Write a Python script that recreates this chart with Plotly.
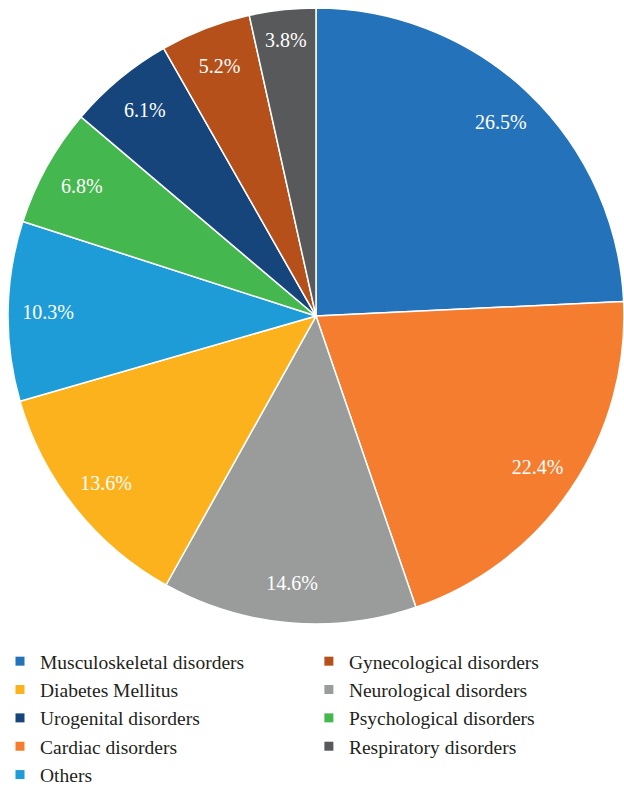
import plotly.graph_objects as go

# slice order (clockwise from 12 o'clock)
labels = ["Musculoskeletal disorders", "Cardiac disorders", "Neurological disorders",
          "Diabetes Mellitus", "Others", "Psychological disorders",
          "Urogenital disorders", "Gynecological disorders", "Respiratory disorders"]
values = [26.5, 22.4, 14.6, 13.6, 10.3, 6.8, 6.1, 5.2, 3.8]
colors = ["#2472BA", "#F47D30", "#999C9B", "#FBB21D", "#1E9CD7", "#45B74F",
          "#15457B", "#B5501A", "#58595B"]

# legend columns
legend_col1 = ["Musculoskeletal disorders", "Diabetes Mellitus",
               "Urogenital disorders", "Cardiac disorders", "Others"]
legend_col2 = ["Gynecological disorders", "Neurological disorders",
               "Psychological disorders", "Respiratory disorders"]

FONT = "Liberation Serif"
TEXT = "#231F20"
color_of = dict(zip(labels, colors))
dom = dict(x=[0.0128, 1.0], y=[0.2061, 0.9898])

fig = go.Figure()
# filled pie with white separators
fig.add_trace(go.Pie(
    labels=labels, values=values, sort=False, direction="clockwise", rotation=0,
    marker=dict(colors=colors, line=dict(color="white", width=1.5)),
    textinfo="none", showlegend=False, hoverinfo="label+value", domain=dom,
))
# transparent outer ring carrying the percentage labels near the rim
fig.add_trace(go.Pie(
    labels=labels, values=values, sort=False, direction="clockwise", rotation=0,
    hole=0.74,
    marker=dict(colors=["rgba(0,0,0,0)"] * len(values), line=dict(width=0)),
    texttemplate="%{value:.1f}%", textposition="inside",
    insidetextorientation="horizontal",
    textfont=dict(family=FONT, size=20, color="white"),
    showlegend=False, hoverinfo="skip", domain=dom,
))
for name in legend_col1:
    fig.add_trace(go.Scatter(
        x=[None], y=[None], mode="markers", name=name, legend="legend",
        marker=dict(symbol="square", size=9, color=color_of[name]),
    ))
for name in legend_col2:
    fig.add_trace(go.Scatter(
        x=[None], y=[None], mode="markers", name=name, legend="legend2",
        marker=dict(symbol="square", size=9, color=color_of[name]),
    ))

leg_common = dict(orientation="v", yanchor="top", xanchor="left",
                  font=dict(family=FONT, size=19.5, color=TEXT),
                  traceorder="normal", itemclick=False, bgcolor="rgba(0,0,0,0)")
fig.update_layout(
    width=624, height=786,
    margin=dict(l=0, r=0, t=0, b=0, autoexpand=False),
    paper_bgcolor="white", plot_bgcolor="white",
    xaxis=dict(visible=False), yaxis=dict(visible=False),
    font=dict(family=FONT, color=TEXT),
    legend=dict(x=0.0, y=1 - 642 / 786, **leg_common),
    legend2=dict(x=0.495, y=1 - 642 / 786, **leg_common),
)
fig.write_html("out.html")
